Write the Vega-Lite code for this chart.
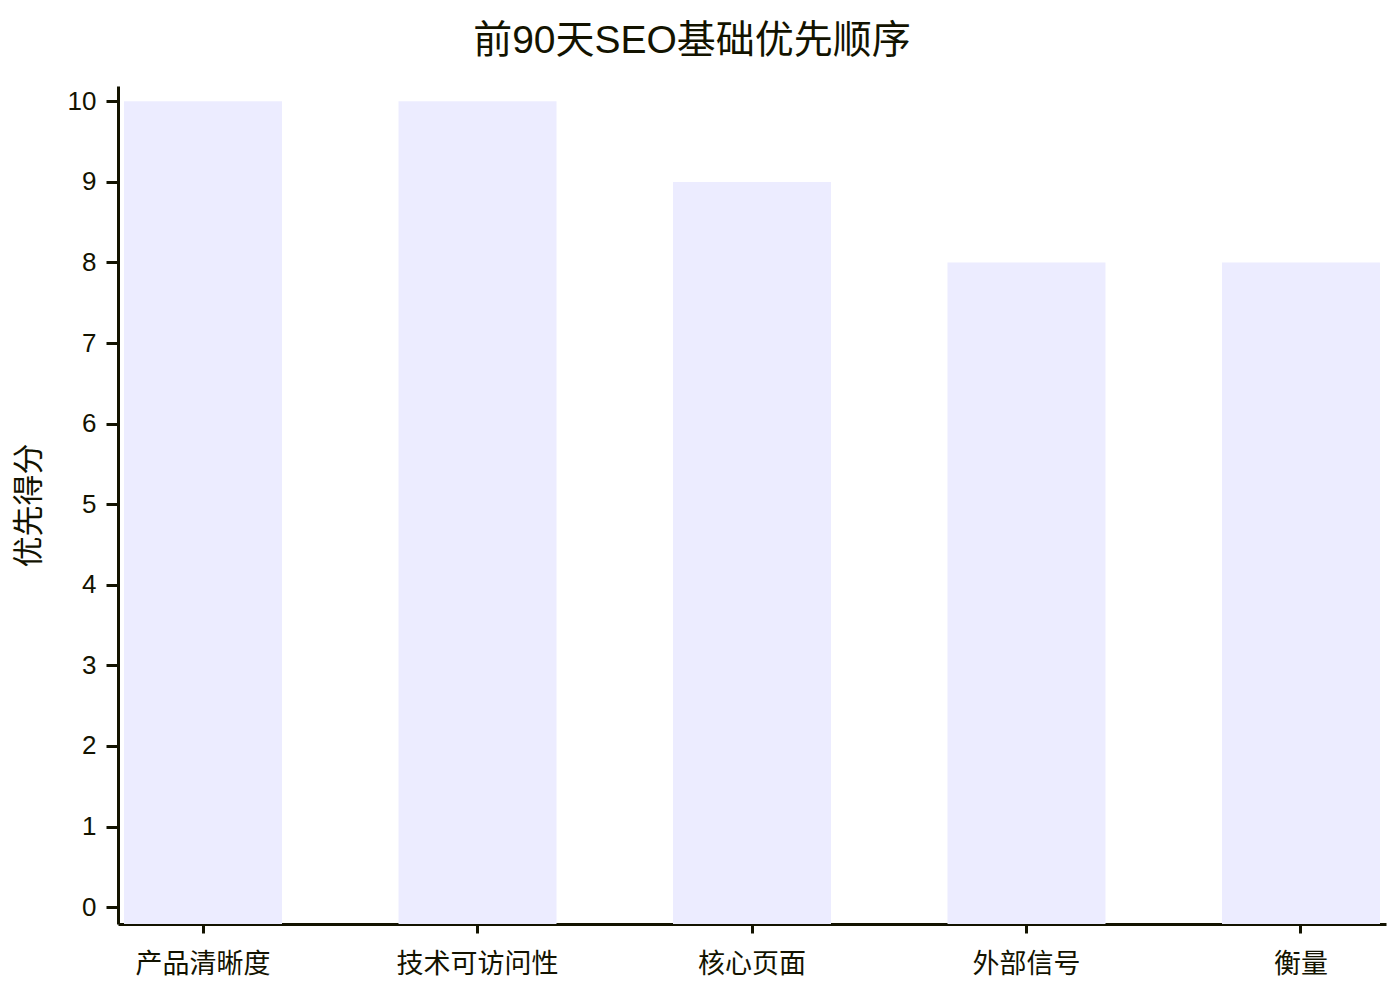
{
  "$schema": "https://vega.github.io/schema/vega-lite/v6.json",
  "autosize": "none",
  "padding": {"left": 118, "top": 86, "right": 14, "bottom": 76},
  "width": 1268,
  "height": 838,
  "background": "white",
  "title": {
    "text": "前90天SEO基础优先顺序",
    "font": "Liberation Sans, Noto Sans CJK SC",
    "fontSize": 39,
    "fontWeight": "normal",
    "color": "#131300",
    "anchor": "middle",
    "dx": -60,
    "offset": 25
  },
  "data": {
    "values": [
      {"area": "产品清晰度", "score": 10},
      {"area": "技术可访问性", "score": 10},
      {"area": "核心页面", "score": 9},
      {"area": "外部信号", "score": 8},
      {"area": "衡量", "score": 8}
    ]
  },
  "mark": {"type": "bar", "color": "#ECECFF"},
  "encoding": {
    "x": {
      "field": "area",
      "type": "nominal",
      "sort": null,
      "scale": {"paddingInner": 0.4244, "paddingOuter": 0.0219},
      "axis": {
        "title": null,
        "labelAngle": 0,
        "labelFont": "Liberation Sans, Noto Sans CJK SC",
        "labelFontSize": 27,
        "labelColor": "#131300",
        "labelPadding": 18,
        "domainColor": "#131300",
        "domainWidth": 3,
        "tickColor": "#131300",
        "tickWidth": 3,
        "tickSize": 9,
        "grid": false
      }
    },
    "y": {
      "field": "score",
      "type": "quantitative",
      "scale": {"domain": [-0.21, 10.19], "nice": false, "zero": false},
      "axis": {
        "title": "优先得分",
        "titleFont": "Liberation Sans, Noto Sans CJK SC",
        "titleFontSize": 31,
        "titleFontWeight": "normal",
        "titleColor": "#131300",
        "titlePadding": 22,
        "values": [0, 1, 2, 3, 4, 5, 6, 7, 8, 9, 10],
        "labelFont": "Liberation Sans",
        "labelFontSize": 26,
        "labelColor": "#131300",
        "labelPadding": 10,
        "domainColor": "#131300",
        "domainWidth": 3,
        "tickColor": "#131300",
        "tickWidth": 3,
        "tickSize": 12,
        "grid": false
      }
    },
    "y2": {"datum": -0.21}
  },
  "config": {"view": {"stroke": null}}
}
